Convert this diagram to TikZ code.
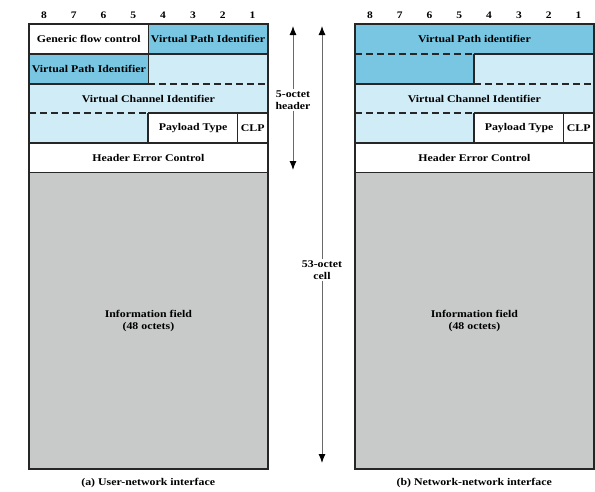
\documentclass[tikz,border=0pt]{standalone}
\usepackage{fontspec}
\setmainfont{Liberation Serif}[FakeStretch=1.15]
\usetikzlibrary{positioning}
\usetikzlibrary{arrows.meta}
\definecolor{vpblue}{RGB}{120,198,226}
\definecolor{vcblue}{RGB}{208,236,246}
\definecolor{infogray}{RGB}{200,202,201}
\definecolor{rulegray}{RGB}{105,105,105}
\tikzset{
  field/.style={anchor=north west, inner sep=0pt, minimum height=29.7pt,
    align=center, font=\bfseries\fontsize{10.3}{12}\selectfont},
  frame/.style={line width=2pt, draw=black!85},
  solidrule/.style={line width=1.6pt, draw=black!85},
  dashrule/.style={line width=1.6pt, draw=black!85, dash pattern=on 7pt off 4pt},
  bitnum/.style={inner sep=1pt, font=\bfseries\fontsize{10}{12}\selectfont},
  caption/.style={inner sep=1pt, font=\bfseries\fontsize{10.3}{12}\selectfont},
  span/.style={draw=rulegray, line width=1pt, -{Latex[length=9pt,width=7pt,color=black]}},
  spanlabel/.style={fill=white, inner sep=1pt, align=center,
    font=\bfseries\fontsize{10.3}{12}\selectfont},
}

\begin{document}
\begin{tikzpicture}[x=1pt,y=-1pt]
    \useasboundingbox (0,0) rectangle (595,491);

    % (a) user-network interface
    \begin{scope}[shift={(29,24)}]
        \foreach \b in {1,...,8}
            \node[bitnum] (bitA\b) at ({238.4-(\b-0.5)*29.8},-9) {\b};

        \node[field, minimum width=119.2pt, fill=white]   (gfcA)  at (0,0)       {Generic flow control};
        \node[field, minimum width=119.2pt, fill=vpblue]  (vpiA1) at (119.2,0)   {Virtual Path Identifier};
        \node[field, minimum width=119.2pt, fill=vpblue]  (vpiA2) at (0,29.7)    {Virtual Path Identifier};
        \node[field, minimum width=119.2pt, fill=vcblue]  (vciA1) at (119.2,29.7) {};
        \node[field, minimum width=238.4pt, fill=vcblue]  (vciA2) at (0,59.4)    {Virtual Channel Identifier};
        \node[field, minimum width=119.2pt, fill=vcblue]  (vciA3) at (0,89.1)    {};
        \node[field, minimum width=89.4pt, fill=white]    (ptA)   at (119.2,89.1) {Payload Type};
        \node[field, minimum width=29.8pt, fill=white]    (clpA)  at (208.6,89.1) {CLP};
        \node[field, minimum width=238.4pt, fill=white]   (hecA)  at (0,118.8)   {Header Error Control};
        \node[field, minimum width=238.4pt, minimum height=296.5pt, fill=infogray]
            (infoA) at (0,148.5) {Information field\\(48 octets)};

        \draw[solidrule] (gfcA.south west) -- (vpiA1.south east);
        \draw[solidrule] (gfcA.north east) -- (vpiA2.south east);
        \draw[solidrule] (vpiA2.south west) -- (vpiA2.south east);
        \draw[dashrule]  (vciA1.south west) -- (vciA1.south east);
        \draw[dashrule]  (vciA3.north west) -- (vciA3.north east);
        \draw[solidrule] (ptA.north west) -- (clpA.north east);
        \draw[solidrule] (ptA.north west) -- (ptA.south west);
        \draw[solidrule] (clpA.north west) -- (clpA.south west);
        \draw[solidrule] (hecA.north west) -- (hecA.north east);
        \draw[solidrule] (infoA.north west) -- (infoA.north east);
        \draw[frame] (gfcA.north west) rectangle (infoA.south east);

        \node[caption] (capA) at (119.2,459) {(a) User-network interface};
    \end{scope}

    % (b) network-network interface
    \begin{scope}[shift={(355,24)}]
        \foreach \b in {1,...,8}
            \node[bitnum] (bitB\b) at ({238.4-(\b-0.5)*29.8},-9) {\b};

        \node[field, minimum width=238.4pt, fill=vpblue]  (vpiB1) at (0,0)       {\raisebox{-3pt}{Virtual Path identifier}};
        \node[field, minimum width=119.2pt, fill=vpblue]  (vpiB2) at (0,29.7)    {};
        \node[field, minimum width=119.2pt, fill=vcblue]  (vciB1) at (119.2,29.7) {};
        \node[field, minimum width=238.4pt, fill=vcblue]  (vciB2) at (0,59.4)    {Virtual Channel Identifier};
        \node[field, minimum width=119.2pt, fill=vcblue]  (vciB3) at (0,89.1)    {};
        \node[field, minimum width=89.4pt, fill=white]    (ptB)   at (119.2,89.1) {Payload Type};
        \node[field, minimum width=29.8pt, fill=white]    (clpB)  at (208.6,89.1) {CLP};
        \node[field, minimum width=238.4pt, fill=white]   (hecB)  at (0,118.8)   {Header Error Control};
        \node[field, minimum width=238.4pt, minimum height=296.5pt, fill=infogray]
            (infoB) at (0,148.5) {Information field\\(48 octets)};

        \draw[dashrule]  (vpiB2.north west) -- (vpiB2.north east);
        \draw[solidrule] (vciB1.north west) -- (vciB1.north east);
        \draw[solidrule] (vciB1.north west) -- (vciB1.south west);
        \draw[solidrule] (vpiB2.south west) -- (vpiB2.south east);
        \draw[dashrule]  (vciB1.south west) -- (vciB1.south east);
        \draw[dashrule]  (vciB3.north west) -- (vciB3.north east);
        \draw[solidrule] (ptB.north west) -- (clpB.north east);
        \draw[solidrule] (ptB.north west) -- (ptB.south west);
        \draw[solidrule] (clpB.north west) -- (clpB.south west);
        \draw[solidrule] (hecB.north west) -- (hecB.north east);
        \draw[solidrule] (infoB.north west) -- (infoB.north east);
        \draw[frame] (vpiB1.north west) rectangle (infoB.south east);

        \node[caption] (capB) at (119.2,459) {(b) Network-network interface};
    \end{scope}

    % header and cell spans
    \coordinate (hdrTop) at (293,26);
    \coordinate (hdrBot) at (293,170);
    \node[spanlabel] (hdrLbl) at (293,100) {5-octet\\header};
    \draw[span] (hdrLbl) -- (hdrTop);
    \draw[span] (hdrLbl) -- (hdrBot);

    \coordinate (cellTop) at (322,26);
    \coordinate (cellBot) at (322,463);
    \node[spanlabel] (cellLbl) at (322,270) {53-octet\\cell};
    \draw[span] (cellLbl) -- (cellTop);
    \draw[span] (cellLbl) -- (cellBot);
\end{tikzpicture}
\end{document}
